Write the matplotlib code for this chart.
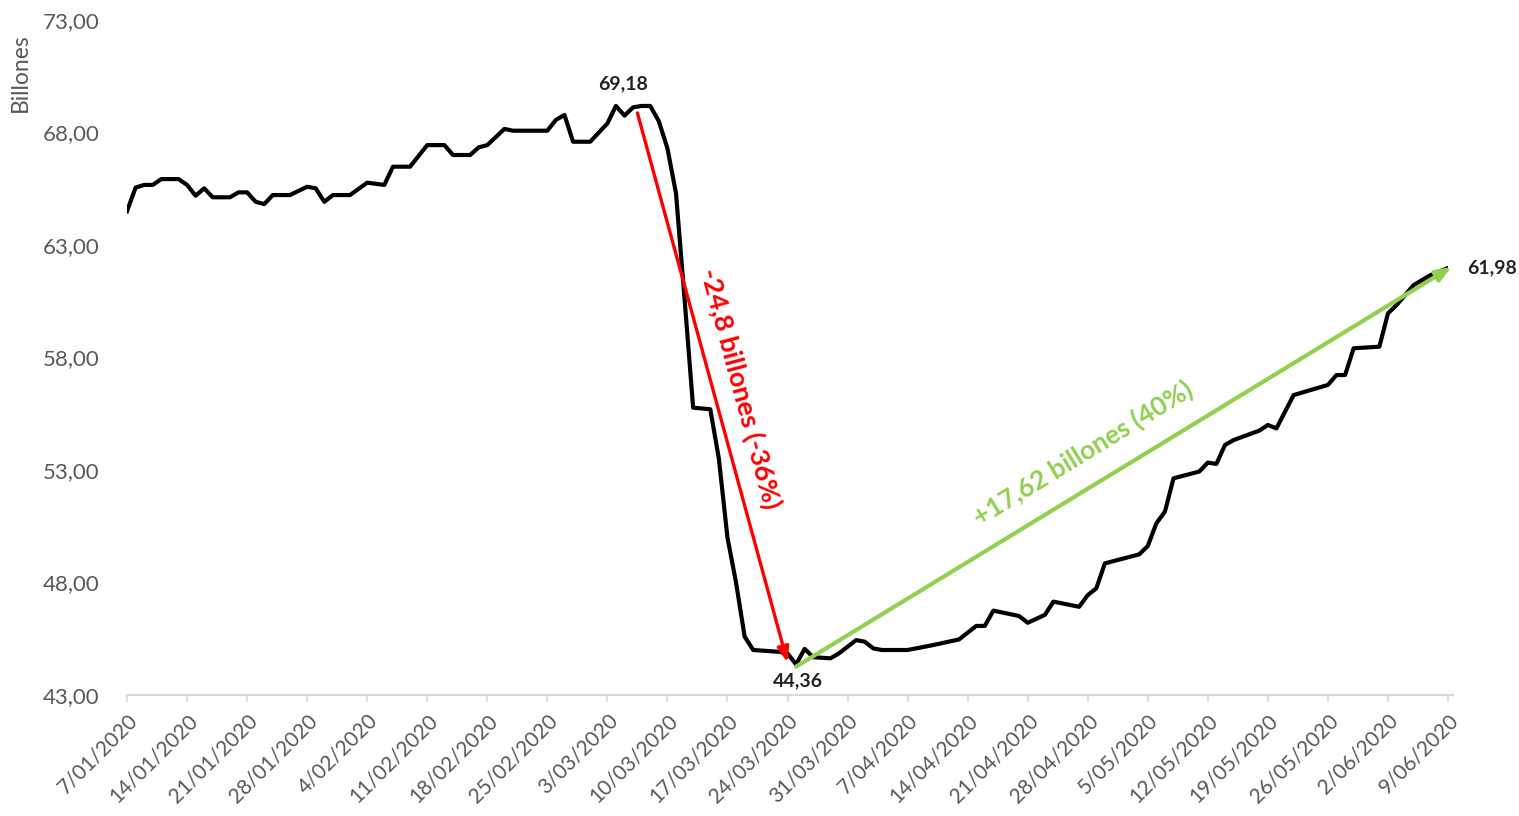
import matplotlib
matplotlib.use("Agg")
import matplotlib.pyplot as plt
import matplotlib.dates as mdates
import pandas as pd

# ---- data ----
dates = ["2020-01-07", "2020-01-08", "2020-01-09", "2020-01-10", "2020-01-11", "2020-01-13",
         "2020-01-14", "2020-01-15", "2020-01-16", "2020-01-17", "2020-01-19", "2020-01-20",
         "2020-01-21", "2020-01-22", "2020-01-23", "2020-01-24", "2020-01-26", "2020-01-28",
         "2020-01-29", "2020-01-30", "2020-01-31", "2020-02-02", "2020-02-04", "2020-02-06",
         "2020-02-07", "2020-02-09", "2020-02-11", "2020-02-13", "2020-02-14", "2020-02-16",
         "2020-02-17", "2020-02-18", "2020-02-20", "2020-02-21", "2020-02-25", "2020-02-26",
         "2020-02-27", "2020-02-28", "2020-03-01", "2020-03-03", "2020-03-04", "2020-03-05",
         "2020-03-06", "2020-03-07", "2020-03-08", "2020-03-09", "2020-03-10", "2020-03-11",
         "2020-03-12", "2020-03-13", "2020-03-15", "2020-03-16", "2020-03-17", "2020-03-18",
         "2020-03-19", "2020-03-20", "2020-03-23", "2020-03-24", "2020-03-25", "2020-03-26",
         "2020-03-27", "2020-03-29", "2020-03-30", "2020-04-01", "2020-04-02", "2020-04-03",
         "2020-04-04", "2020-04-07", "2020-04-10", "2020-04-13", "2020-04-15", "2020-04-16",
         "2020-04-17", "2020-04-20", "2020-04-21", "2020-04-23", "2020-04-24", "2020-04-27",
         "2020-04-28", "2020-04-29", "2020-04-30", "2020-05-04", "2020-05-05", "2020-05-06",
         "2020-05-07", "2020-05-08", "2020-05-11", "2020-05-12", "2020-05-13", "2020-05-14",
         "2020-05-15", "2020-05-18", "2020-05-19", "2020-05-20", "2020-05-22", "2020-05-26",
         "2020-05-27", "2020-05-28", "2020-05-29", "2020-06-01", "2020-06-02", "2020-06-03",
         "2020-06-05", "2020-06-07", "2020-06-09"]
values = [64.50, 65.55, 65.67, 65.67, 65.93, 65.93,
          65.67, 65.19, 65.52, 65.12, 65.12, 65.34,
          65.34, 64.92, 64.82, 65.22, 65.22, 65.59,
          65.52, 64.92, 65.22, 65.22, 65.77, 65.67,
          66.48, 66.48, 67.44, 67.44, 67.00, 67.00,
          67.34, 67.44, 68.16, 68.08, 68.08, 68.56,
          68.78, 67.59, 67.59, 68.40, 69.18, 68.75,
          69.12, 69.18, 69.18, 68.50, 67.30, 65.30,
          60.60, 55.77, 55.70, 53.50, 50.00, 48.00,
          45.60, 45.00, 44.92, 44.85, 44.36, 45.05,
          44.68, 44.63, 44.85, 45.44, 45.37, 45.07,
          45.00, 45.00, 45.22, 45.47, 46.07, 46.07,
          46.75, 46.51, 46.21, 46.56, 47.15, 46.92,
          47.44, 47.74, 48.85, 49.25, 49.62, 50.63,
          51.15, 52.63, 52.93, 53.33, 53.27, 54.11,
          54.33, 54.75, 55.00, 54.85, 56.33, 56.78,
          57.22, 57.22, 58.41, 58.48, 59.96, 60.33,
          61.22, 61.67, 61.98]

tick_dates = ["2020-01-07", "2020-01-14", "2020-01-21", "2020-01-28", "2020-02-04", "2020-02-11",
              "2020-02-18", "2020-02-25", "2020-03-03", "2020-03-10", "2020-03-17", "2020-03-24",
              "2020-03-31", "2020-04-07", "2020-04-14", "2020-04-21", "2020-04-28", "2020-05-05",
              "2020-05-12", "2020-05-19", "2020-05-26", "2020-06-02", "2020-06-09"]
tick_labels = ["7/01/2020", "14/01/2020", "21/01/2020", "28/01/2020", "4/02/2020", "11/02/2020",
               "18/02/2020", "25/02/2020", "3/03/2020", "10/03/2020", "17/03/2020", "24/03/2020",
               "31/03/2020", "7/04/2020", "14/04/2020", "21/04/2020", "28/04/2020", "5/05/2020",
               "12/05/2020", "19/05/2020", "26/05/2020", "2/06/2020", "9/06/2020"]
y_ticks = [43, 48, 53, 58, 63, 68, 73]
y_tick_labels = ["43,00", "48,00", "53,00", "58,00", "63,00", "68,00", "73,00"]

peak_label = "69,18"
trough_label = "44,36"
last_label = "61,98"
drop_text = "-24,8 billones (-36%)"
rise_text = "+17,62 billones (40%)"

# ---- plot ----
plt.rcParams['font.family'] = ['Lato', 'DejaVu Sans']
GRAY = "#595959"
RED = "#FF0000"
GREEN = "#92D050"

x = pd.to_datetime(dates)
y = values

fig = plt.figure(figsize=(15.19, 8.16), dpi=100)
ax = fig.add_axes([127 / 1519, 121 / 816, 1321 / 1519, 675 / 816])

ax.plot(x, y, color="black", lw=3.0, solid_joinstyle="round", zorder=3)

ax.set_xlim(pd.Timestamp(tick_dates[0]), pd.Timestamp(tick_dates[-1]))
ax.set_ylim(43, 73)
ax.set_yticks(y_ticks)
ax.set_yticklabels(y_tick_labels, color=GRAY, fontsize=16)
ax.tick_params(axis="y", length=0, pad=20)

ax.set_xticks(pd.to_datetime(tick_dates))
ax.set_xticklabels(tick_labels, rotation=45, ha="right", rotation_mode="anchor",
                   color=GRAY, fontsize=15)
ax.tick_params(axis="x", length=5, color="#D9D9D9", width=1.2, pad=6, direction="out")

for s in ["top", "right", "left"]:
    ax.spines[s].set_visible(False)
ax.spines["bottom"].set_color("#D9D9D9")
ax.spines["bottom"].set_linewidth(1.5)
ax.spines["bottom"].set_bounds(mdates.date2num(pd.Timestamp(tick_dates[0])),
                               mdates.date2num(pd.Timestamp(tick_dates[-1])) + 0.6)

fig.text(20 / 1519, 1 - 73 / 816, "Billones", rotation=90, color=GRAY, fontsize=16.5,
         ha="center", va="center")

# key points
i_peak = dates.index("2020-03-04")
i_min = values.index(min(values))
i_last = len(values) - 1

ax.annotate(peak_label, (x[i_peak], values[i_peak]), xytext=(5, 10), textcoords="offset points",
            ha="center", va="bottom", fontsize=14, fontweight="bold", color="#222222")
ax.annotate(trough_label, (x[i_min], values[i_min]), xytext=(1, -6), textcoords="offset points",
            ha="center", va="top", fontsize=14, fontweight="bold", color="#222222")
ax.annotate(last_label, (x[i_last], values[i_last]), xytext=(14, 0), textcoords="offset points",
            ha="left", va="center", fontsize=14, fontweight="bold", color="#222222")

# red arrow (drop)
red_start = (x[i_peak] + pd.Timedelta(hours=60), 68.87)
red_end = (x[i_min] - pd.Timedelta(hours=24), 44.45)
ax.annotate("", xy=red_end, xytext=red_start, annotation_clip=False,
            arrowprops=dict(arrowstyle="-|>,head_length=0.9,head_width=0.35", color=RED, lw=2.4,
                            shrinkA=0, shrinkB=0), zorder=4)
ax.text(x[i_peak] + pd.Timedelta(days=14.5), 56.64, drop_text, rotation=-75, color=RED,
        fontsize=19.5, fontweight="bold", ha="center", va="center", rotation_mode="anchor")

# green arrow (rise)
green_start = (x[i_min], values[i_min] - 0.1)
green_end = (x[i_last] + pd.Timedelta(hours=10), values[i_last] + 0.05)
ax.annotate("", xy=green_end, xytext=green_start, annotation_clip=False,
            arrowprops=dict(arrowstyle="-|>,head_length=0.9,head_width=0.35", color=GREEN, lw=3.0,
                            shrinkA=0, shrinkB=0), zorder=4)
ax.text(x[i_min] + pd.Timedelta(days=33.4), 53.76, rise_text, rotation=31.5, color=GREEN,
        fontsize=19, fontweight="bold", ha="center", va="center", rotation_mode="anchor")

fig.savefig("out.png", dpi=100, facecolor="white")
